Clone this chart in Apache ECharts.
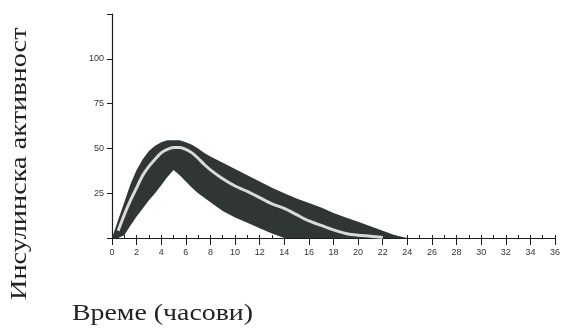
<!DOCTYPE html>
<html>
<head>
<meta charset="utf-8">
<script src="https://cdn.jsdelivr.net/npm/echarts@6/dist/echarts.min.js"></script>
<style>
  html, body { margin: 0; padding: 0; background: #fff; }
  #chart { width: 563px; height: 331px; }
</style>
</head>
<body>
<div id="chart"></div>
<script>
// часови
var hours = [0, 0.5, 1, 1.5, 2, 2.5, 3, 3.5, 4, 4.5, 5, 5.5, 6, 6.5, 7, 7.5, 8,
             9, 10, 11, 12, 13, 14, 15, 16, 17, 18, 19, 20, 21, 22, 23, 24];
// горна граница на опсегот
var upper = [0, 10, 20, 30, 38, 44, 48.5, 51.5, 53.5, 54.5, 54.5, 54.5, 53.5, 52, 50, 47.5, 45.5,
             42, 38.5, 35, 31.5, 28, 25, 22, 19.5, 17, 14, 11.5, 9, 6.5, 4, 1.5, 0];
// долна граница на опсегот
var lower = [0, 0, 1.5, 7, 12, 16.5, 21, 25, 29.5, 34, 38, 35, 31.5, 28, 25, 22.5, 20,
             15, 11.5, 8.5, 5.5, 2.5, 0, 0, 0, 0, 0, 0, 0, 0, 0, 0, 0];
// средна вредност
var mean = [null, 4, 13, 21, 28, 35, 40, 44, 47.5, 49.5, 50.5, 50.5, 49.5, 47.5, 44.5, 41, 38,
            33, 29, 26, 22.5, 19, 16.5, 13, 9.5, 7, 4.5, 2.5, 1.5, 1, 0.3, null, null];
var yTicks = [25, 50, 75, 100];

var meanData = [];
for (var i = 0; i < hours.length; i++) {
    meanData.push([hours[i], mean[i]]);
}

// опсегот како полигон: горна граница напред, долна назад
function renderBand(params, api) {
    var pts = [];
    for (var i = 0; i < hours.length; i++) {
        pts.push(api.coord([hours[i], upper[i]]));
    }
    for (var j = hours.length - 1; j >= 0; j--) {
        pts.push(api.coord([hours[j], lower[j]]));
    }
    return {
        type: 'polygon',
        shape: { points: pts },
        style: { fill: '#303633' }
    };
}

var chart = echarts.init(document.getElementById('chart'));
var axisColor = '#1e1e1e';
var option = {
    animation: false,
    backgroundColor: '#fff',
    grid: { left: 112, right: 1, top: 14, bottom: 93 },
    xAxis: [{
        type: 'value',
        min: 0,
        max: 36,
        interval: 2,
        splitLine: { show: false },
        axisLine: { lineStyle: { color: axisColor, width: 1.2 } },
        axisTick: { length: 7, lineStyle: { color: axisColor } },
        axisLabel: { margin: 10, fontSize: 9, color: '#333', fontFamily: 'Liberation Sans' }
    }, {
        // ситни цртички нагоре
        type: 'value',
        position: 'bottom',
        min: 0,
        max: 36,
        interval: 1,
        splitLine: { show: false },
        axisLine: { show: false },
        axisTick: { inside: true, length: 3, lineStyle: { color: axisColor } },
        axisLabel: { show: false }
    }],
    yAxis: {
        type: 'value',
        min: 0,
        max: 125,
        interval: 25,
        splitLine: { show: false },
        axisLine: { show: true, lineStyle: { color: axisColor, width: 1.2 } },
        axisTick: { show: true, length: 5, lineStyle: { color: axisColor } },
        axisLabel: {
            margin: 8, fontSize: 9, color: '#333', fontFamily: 'Liberation Sans',
            formatter: function (v) { return yTicks.indexOf(v) >= 0 ? v : ''; }
        }
    },
    graphic: [{
        type: 'text',
        x: 8,
        y: 300,
        rotation: Math.PI / 2,
        scaleX: 1.18,
        style: {
            text: 'Инсулинска активност',
            font: '24px "Liberation Serif"',
            fill: '#222'
        }
    }, {
        type: 'text',
        x: 72,
        y: 302,
        scaleX: 1.16,
        style: {
            text: 'Време (часови)',
            font: '24px "Liberation Serif"',
            fill: '#222'
        }
    }],
    series: [{
        name: 'band',
        type: 'custom',
        xAxisIndex: 0,
        renderItem: renderBand,
        data: [[0, 0]],
        silent: true,
        z: 2
    }, {
        name: 'mean',
        type: 'line',
        xAxisIndex: 0,
        data: meanData,
        symbol: 'none',
        smooth: 0.3,
        lineStyle: { color: '#dadada', width: 3 },
        z: 3
    }]
};
chart.setOption(option);
</script>
</body>
</html>
